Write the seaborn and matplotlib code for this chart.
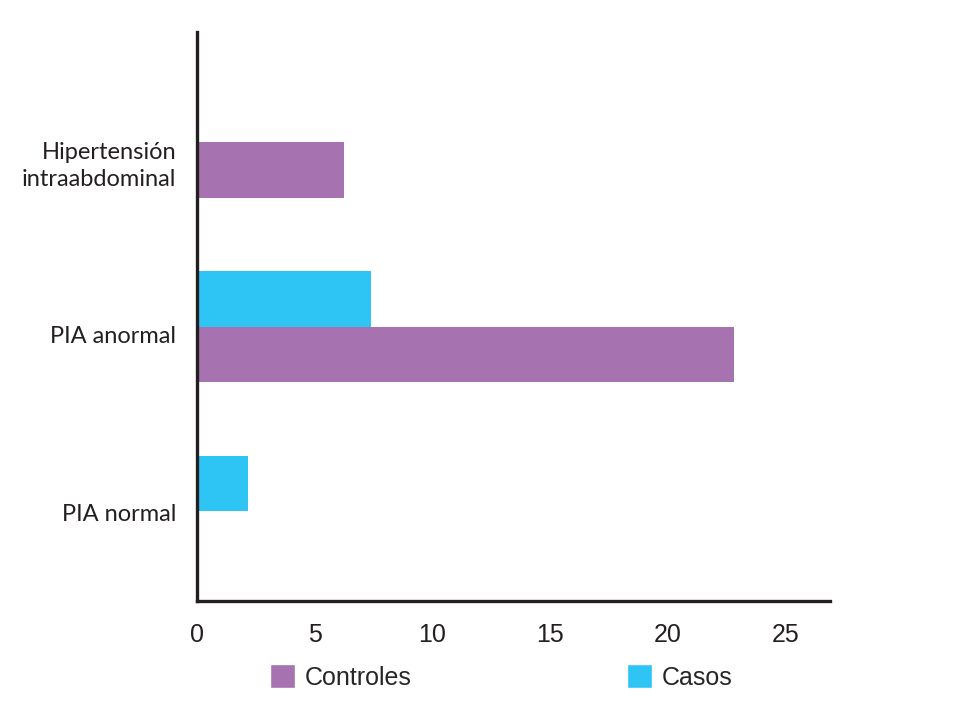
import matplotlib
matplotlib.use('Agg')
import matplotlib.pyplot as plt
import matplotlib.transforms as mtransforms
from matplotlib.patches import Patch
import pandas as pd
import seaborn as sns

categories = ['Hipertensión\nintraabdominal', 'PIA anormal', 'PIA normal']
casos = [0, 7.4, 2.15]
controles = [6.25, 22.8, 0]
groups = ['Casos', 'Controles']
xticks = [0, 5, 10, 15, 20, 25]

colors = {'Casos': '#2EC4F4', 'Controles': '#A672B0'}
spine_col = '#231F20'

df = pd.DataFrame({
    'categoria': categories * 2,
    'valor': casos + controles,
    'grupo': ['Casos'] * 3 + ['Controles'] * 3,
})

sns.set_style('white')
plt.rcParams['font.family'] = ['Liberation Sans', 'DejaVu Sans']

fig = plt.figure(figsize=(9.58, 7.13), dpi=100)
ax = fig.add_axes([197 / 958, 1 - 601 / 713, (830 - 197) / 958, (601 - 32) / 713])

sns.barplot(data=df, x='valor', y='categoria', hue='grupo', hue_order=groups,
            order=categories, orient='h', palette=colors, width=0.6,
            linewidth=0, saturation=1, ax=ax, legend=False)

ax.set_xlim(0, 26.9)
ax.set_ylim(2.49, -0.6)
ax.set_xticks(xticks)
ax.set_xlabel('')
ax.set_ylabel('')
ax.tick_params(axis='x', direction='out', length=6, width=1.5, color=spine_col,
               labelsize=18, pad=10, labelcolor='#231F20')
ax.tick_params(axis='y', length=0, pad=15, labelsize=17, labelcolor='#231F20')

# labels sit a little below the group centres in the original
label_drop = [19, 8, 2]
for lbl, d in zip(ax.get_yticklabels(), label_drop):
    lbl.set_fontfamily(['Lato', 'DejaVu Sans'])
    lbl.set_linespacing(1.35)
    shift = mtransforms.ScaledTranslation(0, -d / 100, fig.dpi_scale_trans)
    lbl.set_transform(lbl.get_transform() + shift)

for s in ['top', 'right']:
    ax.spines[s].set_visible(False)
for s in ['left', 'bottom']:
    ax.spines[s].set_color(spine_col)
    ax.spines[s].set_linewidth(2.4)

handles = [Patch(facecolor=colors['Controles'], label='Controles'),
           Patch(facecolor=colors['Casos'], label='Casos')]
fig.legend(handles=handles, ncol=2, loc='center left',
           bbox_to_anchor=(270 / 958, 1 - 677 / 713), frameon=False,
           fontsize=18, handlelength=1.0, handleheight=1.05,
           handletextpad=0.4, columnspacing=8.6, borderpad=0,
           borderaxespad=0)

fig.savefig('out.png', dpi=100)
